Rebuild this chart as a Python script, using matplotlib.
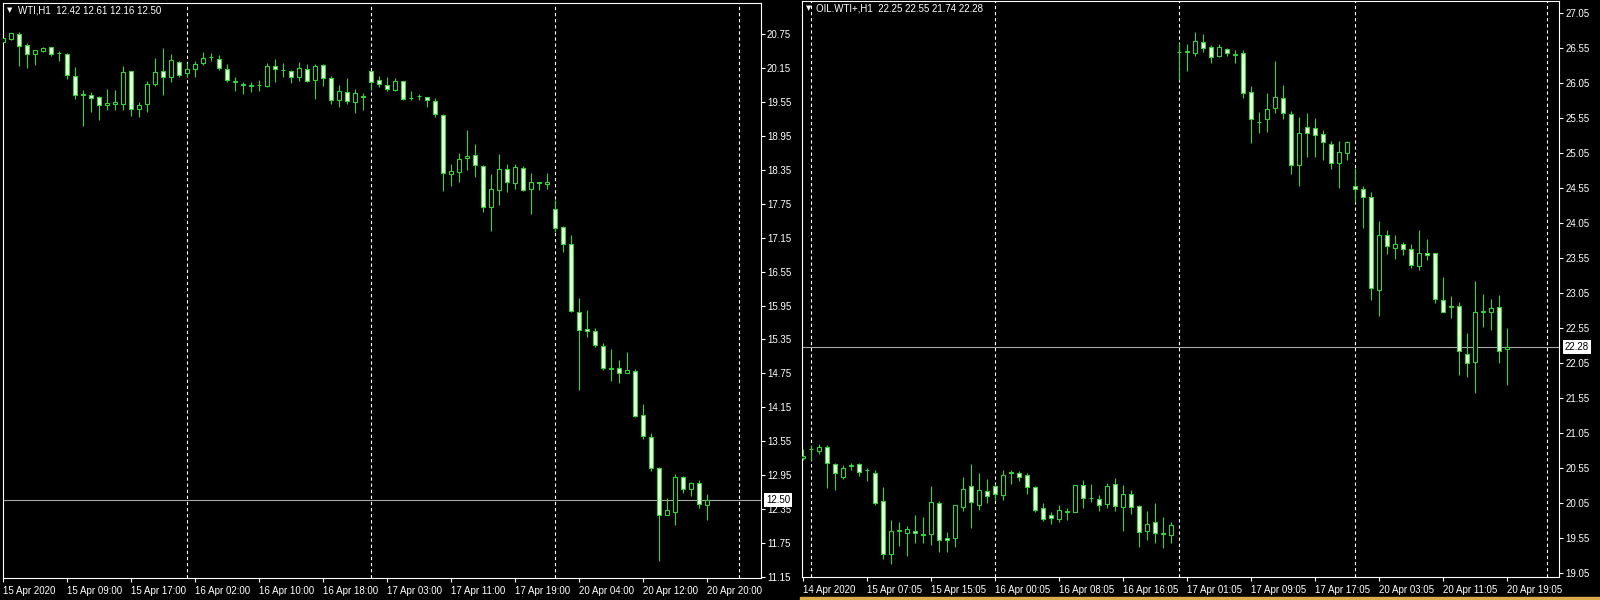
import numpy as np
import matplotlib
matplotlib.use('Agg')
import matplotlib.pyplot as plt
from matplotlib.patches import Rectangle

plt.rcParams['font.family'] = ['Liberation Sans', 'DejaVu Sans']

# ---- left chart: WTI,H1 (hourly candles, index = bar number)
wti_open = [20.61, 20.67, 20.75, 20.56, 20.40, 20.46, 20.52, 20.42, 20.40, 20.01,
            19.69, 19.68, 19.64, 19.50, 19.51, 19.51, 20.10, 19.42, 19.51, 19.87,
            20.10, 19.99, 20.26, 20.06, 20.13, 20.24, 20.34, 20.31, 20.13, 19.91,
            19.87, 19.84, 19.85, 19.84, 20.19, 20.12, 20.10, 20.00, 20.14, 19.94,
            20.21, 19.97, 19.59, 19.72, 19.56, 19.64, 20.10, 19.94, 19.85, 19.76,
            19.93, 19.62, 19.65, 19.64, 19.57, 19.32, 18.27, 18.32, 18.56, 18.62,
            18.42, 17.70, 17.99, 18.36, 18.12, 18.38, 18.01, 18.13, 18.10, 17.66,
            17.34, 17.04, 15.84, 15.53, 15.50, 15.24, 14.84, 14.84, 14.75, 14.79,
            14.02, 13.62, 13.08, 12.25, 12.30, 12.92, 12.71, 12.80, 12.42]
wti_high = [20.75, 20.78, 20.79, 20.59, 20.47, 20.53, 20.53, 20.46, 20.42, 20.17,
            19.76, 19.73, 19.65, 19.78, 19.77, 20.19, 20.10, 19.55, 19.93, 20.33,
            20.50, 20.40, 20.28, 20.24, 20.27, 20.43, 20.42, 20.39, 20.22, 19.99,
            19.91, 19.91, 19.94, 20.25, 20.31, 20.25, 20.12, 20.26, 20.23, 20.22,
            20.23, 20.01, 19.86, 19.97, 19.78, 19.71, 20.10, 20.01, 20.00, 19.97,
            19.93, 19.75, 19.70, 19.64, 19.62, 19.34, 18.46, 18.65, 19.05, 18.81,
            18.44, 18.28, 18.63, 18.46, 18.45, 18.42, 18.30, 18.13, 18.30, 17.82,
            17.36, 17.20, 16.08, 15.87, 15.56, 15.28, 15.18, 14.98, 15.12, 14.83,
            14.21, 13.70, 13.10, 12.54, 12.96, 12.93, 12.83, 12.86, 12.61]
wti_low = [20.59, 20.65, 20.18, 20.15, 20.20, 20.43, 20.36, 20.28, 19.96, 19.61,
           19.12, 19.37, 19.24, 19.41, 19.41, 19.41, 19.31, 19.28, 19.37, 19.84,
           19.68, 19.90, 19.99, 20.00, 20.00, 20.21, 20.28, 20.12, 19.91, 19.74,
           19.69, 19.72, 19.74, 19.81, 19.91, 20.00, 19.89, 19.93, 19.90, 19.61,
           19.83, 19.51, 19.47, 19.51, 19.35, 19.41, 19.77, 19.81, 19.75, 19.74,
           19.58, 19.59, 19.58, 19.46, 19.28, 17.97, 18.06, 18.13, 18.34, 18.22,
           17.61, 17.26, 17.72, 17.95, 18.01, 17.97, 17.57, 17.99, 18.01, 17.25,
           16.89, 15.83, 14.45, 15.39, 15.22, 14.81, 14.62, 14.57, 14.75, 13.98,
           13.58, 13.02, 11.43, 12.24, 12.06, 12.63, 12.58, 12.36, 12.16]
wti_close = [20.69, 20.77, 20.55, 20.40, 20.47, 20.50, 20.40, 20.41, 20.03, 19.67,
             19.68, 19.62, 19.49, 19.53, 19.55, 20.08, 19.42, 19.50, 19.87, 20.08,
             19.99, 20.29, 20.03, 20.13, 20.22, 20.33, 20.34, 20.15, 19.94, 19.92,
             19.86, 19.84, 19.86, 20.19, 20.13, 20.12, 19.99, 20.15, 19.93, 20.18,
             19.97, 19.59, 19.75, 19.57, 19.71, 19.65, 19.90, 19.87, 19.78, 19.93,
             19.61, 19.62, 19.65, 19.58, 19.34, 18.29, 18.33, 18.54, 18.60, 18.44,
             17.70, 18.01, 18.36, 18.13, 18.41, 17.99, 18.13, 18.12, 18.13, 17.32,
             17.04, 15.86, 15.52, 15.50, 15.25, 14.84, 14.83, 14.76, 14.81, 13.99,
             13.64, 13.07, 12.25, 12.33, 12.92, 12.71, 12.81, 12.43, 12.50]
wti_day_starts = [23, 46, 69, 92]
wti_xtick_bars = [0, 8, 16, 24, 32, 40, 48, 56, 64, 72, 80, 88]
wti_xtick_labels = ['15 Apr 2020', '15 Apr 09:00', '15 Apr 17:00', '16 Apr 02:00',
                    '16 Apr 10:00', '16 Apr 18:00', '17 Apr 03:00', '17 Apr 11:00',
                    '17 Apr 19:00', '20 Apr 04:00', '20 Apr 12:00', '20 Apr 20:00']
wti_yticks = [11.15, 11.75, 12.35, 12.95, 13.55, 14.15, 14.75, 15.35, 15.95,
              16.55, 17.15, 17.75, 18.35, 18.95, 19.55, 20.15, 20.75]
wti_bid = 12.50

# ---- right chart: OIL.WTI+,H1
oil_open = [20.70, 20.82, 20.80, 20.85, 20.61, 20.43, 20.59, 20.61, 20.53, 20.49,
            20.09, 19.33, 19.66, 19.63, 19.66, 19.61, 19.61, 20.05, 19.56, 19.56,
            20.00, 20.30, 20.03, 20.23, 20.30, 20.17, 20.49, 20.48, 20.45, 20.29,
            19.98, 19.88, 19.83, 19.93, 19.93, 20.31, 20.12, 20.11, 20.04, 20.33,
            20.00, 20.19, 20.01, 19.66, 19.78, 19.63, 19.60, 26.50, 26.50, 26.48,
            26.64, 26.57, 26.44, 26.54, 26.46, 26.48, 25.93, 25.50, 25.54, 25.70,
            25.84, 25.61, 24.89, 25.42, 25.41, 25.32, 25.19, 24.91, 25.06, 24.59,
            24.54, 24.43, 23.10, 23.88, 23.70, 23.76, 23.69, 23.44, 23.62, 23.62,
            22.95, 22.86, 22.87, 22.19, 22.07, 22.79, 22.79, 22.85, 22.25]
oil_high = [20.83, 20.88, 20.90, 20.88, 20.63, 20.60, 20.63, 20.62, 20.55, 20.52,
            20.28, 19.81, 19.78, 19.72, 19.88, 19.86, 20.30, 20.09, 19.64, 20.03,
            20.43, 20.61, 20.49, 20.40, 20.32, 20.53, 20.53, 20.51, 20.48, 20.30,
            20.06, 19.92, 20.03, 19.99, 20.31, 20.38, 20.33, 20.17, 20.34, 20.41,
            20.31, 20.24, 20.03, 19.94, 20.05, 19.86, 19.79, 26.63, 26.61, 26.78,
            26.75, 26.60, 26.61, 26.56, 26.53, 26.53, 26.01, 25.64, 25.91, 26.37,
            26.03, 25.65, 25.57, 25.62, 25.55, 25.39, 25.22, 25.23, 25.23, 24.84,
            24.58, 24.50, 24.08, 23.95, 23.89, 23.78, 23.75, 23.95, 23.83, 23.62,
            23.29, 23.01, 22.93, 22.49, 23.23, 23.04, 22.97, 23.03, 22.55]
oil_low = [20.67, 20.67, 20.76, 20.27, 20.24, 20.40, 20.52, 20.44, 20.37, 20.03,
           19.25, 19.19, 19.44, 19.30, 19.49, 19.49, 19.46, 19.36, 19.36, 19.43,
           19.94, 19.70, 19.95, 20.05, 20.10, 20.10, 20.33, 20.37, 20.19, 19.92,
           19.80, 19.76, 19.79, 19.81, 19.92, 19.99, 20.07, 19.94, 19.99, 19.94,
           19.65, 19.90, 19.43, 19.53, 19.49, 19.41, 19.49, 26.10, 26.23, 26.44,
           26.50, 26.34, 26.42, 26.44, 26.34, 25.84, 25.20, 25.34, 25.36, 25.63,
           25.54, 24.76, 24.59, 25.00, 25.00, 24.96, 24.82, 24.56, 24.96, 24.36,
           23.99, 22.95, 22.72, 23.61, 23.54, 23.60, 23.41, 23.39, 23.52, 22.91,
           22.78, 22.70, 21.89, 21.86, 21.62, 22.57, 22.53, 22.06, 21.74]
oil_close = [20.72, 20.82, 20.85, 20.63, 20.48, 20.56, 20.59, 20.50, 20.52, 20.05,
             19.32, 19.66, 19.66, 19.69, 19.62, 19.60, 20.07, 19.53, 19.52, 20.03,
             20.26, 20.07, 20.24, 20.15, 20.18, 20.45, 20.49, 20.43, 20.28, 19.96,
             19.83, 19.84, 19.95, 19.93, 20.31, 20.12, 20.12, 20.02, 20.30, 20.01,
             20.18, 20.00, 19.64, 19.76, 19.63, 19.61, 19.74, 26.50, 26.51, 26.66,
             26.55, 26.43, 26.57, 26.49, 26.46, 25.91, 25.54, 25.50, 25.69, 25.86,
             25.62, 24.88, 25.34, 25.34, 25.31, 25.21, 24.91, 25.07, 25.21, 24.54,
             24.42, 23.12, 23.89, 23.73, 23.76, 23.69, 23.46, 23.62, 23.60, 22.97,
             22.79, 22.86, 22.22, 22.05, 22.79, 22.79, 22.84, 22.22, 22.28]
oil_day_starts = [1, 24, 47, 69, 93]
oil_xtick_bars = [0, 8, 16, 24, 32, 40, 48, 56, 64, 72, 80, 88]
oil_xtick_labels = ['14 Apr 2020', '15 Apr 07:05', '15 Apr 15:05', '16 Apr 00:05',
                    '16 Apr 08:05', '16 Apr 16:05', '17 Apr 01:05', '17 Apr 09:05',
                    '17 Apr 17:05', '20 Apr 03:05', '20 Apr 11:05', '20 Apr 19:05']
oil_yticks = [19.05, 19.55, 20.05, 20.55, 21.05, 21.55, 22.05, 22.55, 23.05,
              23.55, 24.05, 24.55, 25.05, 25.55, 26.05, 26.55, 27.05]
oil_bid = 22.28

GREEN = '#3ccf3c'
BEAR = '#eafde4'


def candles(ax, o, h, l, c):
    o = np.array(o); h = np.array(h); l = np.array(l); c = np.array(c)
    x = np.arange(len(o))
    ax.vlines(x, l, h, color=GREEN, lw=0.8, zorder=2)
    bottom = np.minimum(o, c)
    height = np.maximum(np.abs(c - o), 0.004)
    face = [BEAR if cc < oo else 'black' for oo, cc in zip(o, c)]
    ax.bar(x, height, bottom=bottom, width=0.5, color=face,
           edgecolor=GREEN, linewidth=0.8, zorder=3)


def style_panel(ax, xlim, ylim, yticks, xbars, xlabels, day_starts, bid):
    ax.set_facecolor('black')
    ax.set_xlim(*xlim)
    ax.set_ylim(*ylim)
    for s in ax.spines.values():
        s.set_color('white')
        s.set_linewidth(0.8)
    ax.yaxis.tick_right()
    ax.set_yticks(yticks)
    ax.set_yticklabels(['%.2f' % v for v in yticks])
    ax.set_xticks(xbars)
    ax.set_xticklabels(xlabels)
    for lbl in ax.get_xticklabels():
        lbl.set_ha('left')
    ax.tick_params(axis='y', direction='out', length=3, width=0.8,
                   colors='white', labelsize=7, pad=1.5)
    ax.tick_params(axis='x', direction='out', length=3, width=0.8,
                   colors='white', labelsize=7, pad=2.5)
    for d in day_starts:
        ax.axvline(d, color='white', lw=0.8, ls=(0, (3, 2.5)), zorder=1)
    ax.axhline(bid, color='#a8a8a8', lw=0.8, zorder=1)
    ax.annotate('%.2f' % bid, xy=(1, bid), xycoords=('axes fraction', 'data'),
                xytext=(4, 0), textcoords='offset points', ha='left', va='center',
                fontsize=7, color='black', annotation_clip=False, zorder=10,
                bbox=dict(boxstyle='square,pad=0.2', fc='white', ec='none'))


fig = plt.figure(figsize=(16, 6), dpi=100, facecolor='black')

ax1 = fig.add_axes([2.7 / 1600, 21.7 / 600, 758 / 1600, 575.6 / 600])
candles(ax1, wti_open, wti_high, wti_low, wti_close)
style_panel(ax1, (-0.075, 94.68), (11.122, 21.309), wti_yticks,
            wti_xtick_bars, wti_xtick_labels, wti_day_starts, wti_bid)

ax2 = fig.add_axes([801.7 / 1600, 22.7 / 600, 757.6 / 1600, 576.3 / 600])
candles(ax2, oil_open, oil_high, oil_low, oil_close)
style_panel(ax2, (-0.11, 94.59), (18.993, 27.226), oil_yticks,
            oil_xtick_bars, oil_xtick_labels, oil_day_starts, oil_bid)

# chart headers
fig.text(9.5 / 1600, 1 - 10.5 / 600, '\u25bc', color='white', fontsize=5,
         family='DejaVu Sans', ha='center', va='center')
fig.text(17.5 / 1600, 1 - 10.5 / 600, 'WTI,H1  12.42 12.61 12.16 12.50',
         color='white', fontsize=7, ha='left', va='center')
fig.text(808.5 / 1600, 1 - 8.5 / 600, '\u25bc', color='white', fontsize=5,
         family='DejaVu Sans', ha='center', va='center')
fig.text(816.5 / 1600, 1 - 8.5 / 600, 'OIL.WTI+,H1  22.25 22.55 21.74 22.28',
         color='white', fontsize=7, ha='left', va='center')

# window strip along the bottom of the right chart
fig.patches.append(Rectangle((800 / 1600, 0), 800 / 1600, 3 / 600,
                             transform=fig.transFigure, color='#d8ac48'))

fig.savefig('out.png', dpi=100, facecolor='black')
